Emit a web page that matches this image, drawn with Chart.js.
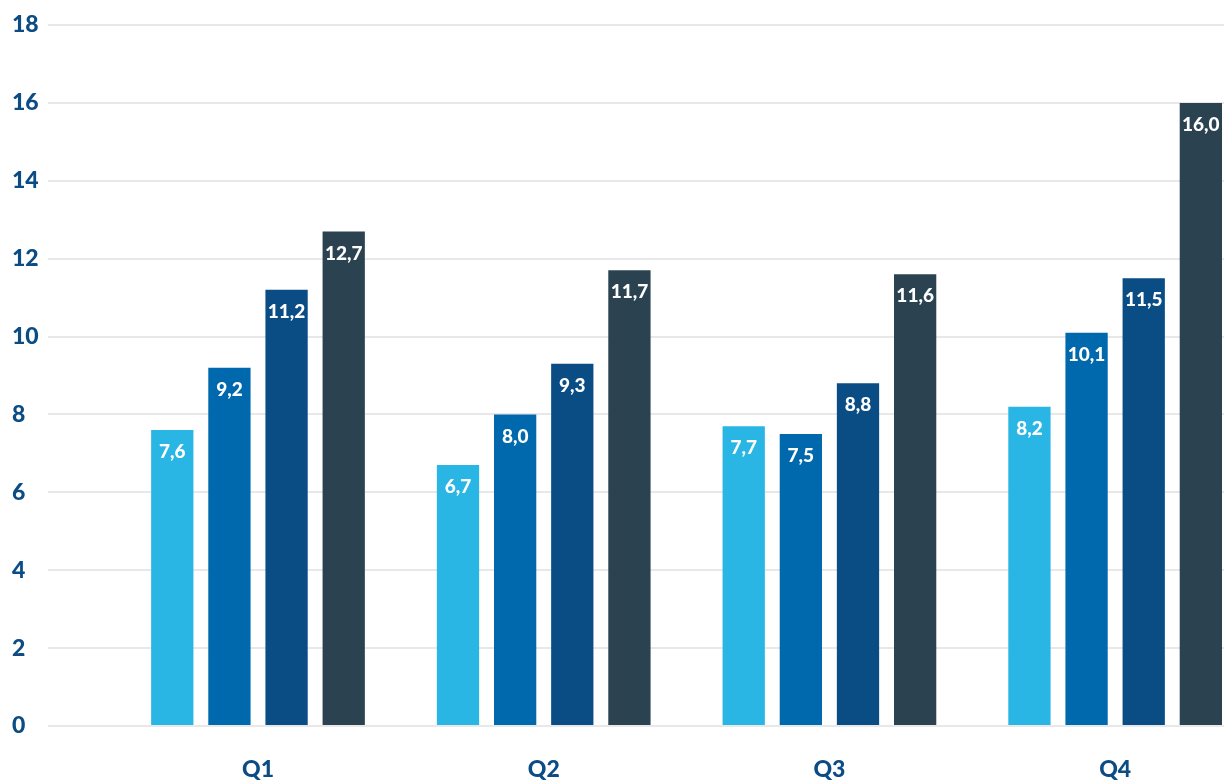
<!DOCTYPE html>
<html>
<head>
<meta charset="utf-8">
<script src="https://cdn.jsdelivr.net/npm/chart.js@4/dist/chart.umd.min.js"></script>
<style>
    body { margin: 0; background: #fff; }
    #wrap { width: 1231px; height: 781px; }
</style>
</head>
<body>
<div id="wrap"><canvas id="quarter-chart"></canvas></div>
<script>
// Values
var categories = ['Q1', 'Q2', 'Q3', 'Q4'];
var series1 = [7.6, 6.7, 7.7, 8.2];
var series2 = [9.2, 8.0, 7.5, 10.1];
var series3 = [11.2, 9.3, 8.8, 11.5];
var series4 = [12.7, 11.7, 11.6, 16.0];
var yTicks = [0, 2, 4, 6, 8, 10, 12, 14, 16, 18];

var colors = ['#29b6e5', '#0068ad', '#0a4d85', '#2b4351'];
var textBlue = '#0c4c84';

document.addEventListener("DOMContentLoaded", function () {
    // draws the white value inside the top of every bar
    var valueLabels = {
        id: 'valueLabels',
        afterDatasetsDraw: function (chart) {
            var ctx = chart.ctx;
            ctx.save();
            ctx.fillStyle = '#ffffff';
            ctx.font = '900 19px Lato';
            ctx.textAlign = 'center';
            ctx.textBaseline = 'middle';
            chart.data.datasets.forEach(function (ds, i) {
                chart.getDatasetMeta(i).data.forEach(function (bar, j) {
                    var txt = ds.data[j].toFixed(1).replace('.', ',');
                    ctx.fillText(txt, bar.x, bar.y + 22);
                });
            });
            ctx.restore();
        }
    };

    var datasets = [series1, series2, series3, series4].map(function (d, i) {
        return {
            label: 'Series ' + (i + 1),
            data: d,
            backgroundColor: colors[i],
            categoryPercentage: 0.8,
            barPercentage: 0.74
        };
    });

    var ctx = document.getElementById('quarter-chart').getContext('2d');
    new Chart(ctx, {
        type: 'bar',
        data: {
            labels: categories.map(function (c, i) { return i; }),
            datasets: datasets
        },
        options: {
            responsive: true,
            maintainAspectRatio: false,
            animation: false,
            layout: { padding: { left: 12, right: 7, top: 25, bottom: 0 } },
            plugins: {
                legend: { display: false },
                tooltip: { enabled: false }
            },
            scales: {
                x: {
                    type: 'linear',
                    offset: false,
                    min: -0.735,
                    max: 3.381,
                    afterBuildTicks: function (scale) {
                        scale.ticks = categories.map(function (c, i) { return { value: i }; });
                    },
                    afterFit: function (scale) { scale.height = 55; },
                    grid: { display: false },
                    border: { display: false },
                    ticks: {
                        padding: 22,
                        color: textBlue,
                        font: { family: 'Lato', size: 23, weight: '900' },
                        callback: function (v) { return categories[v]; }
                    }
                },
                y: {
                    min: 0,
                    max: 18,
                    afterBuildTicks: function (scale) {
                        scale.ticks = yTicks.map(function (v) { return { value: v }; });
                    },
                    afterFit: function (scale) { scale.width = 36; },
                    grid: { color: '#e8e8e8', lineWidth: 2, drawTicks: false },
                    border: { display: false },
                    ticks: {
                        crossAlign: 'far',
                        padding: 0,
                        color: textBlue,
                        font: { family: 'Lato', size: 23, weight: '900' }
                    }
                }
            }
        },
        plugins: [valueLabels]
    });
});
</script>
</body>
</html>
